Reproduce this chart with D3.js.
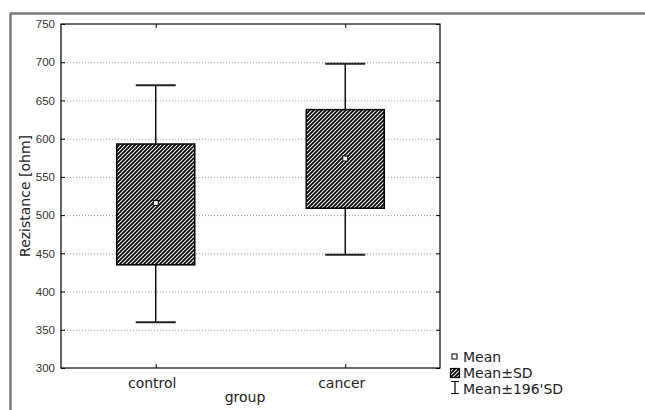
<!DOCTYPE html>
<html><head><meta charset="utf-8">
<script src="https://cdn.jsdelivr.net/npm/d3@7"></script>
<style>body{margin:0;background:#fff}svg{display:block}</style>
</head><body>
<svg id="c" width="645" height="410"></svg>
<script>
const categories = ["control", "cancer"];
const means = [516, 574];
const sdLow = [435, 509];
const sdHigh = [593, 638];
const ciLow = [360, 448];
const ciHigh = [670, 698];
const yTicks = [300, 350, 400, 450, 500, 550, 600, 650, 700, 750];
const legendLabels = ["Mean", "Mean±SD", "Mean±196'SD"];

const svg = d3.select("#c");
const L = 61, R = 440, T = 24, B = 368;
const x = d3.scalePoint().domain(categories).range([L, R]).padding(0.5);
const y = d3.scaleLinear().domain([300, 750]).range([B, T]);

const defs = svg.append("defs");
const pat = defs.append("pattern").attr("id", "hatch").attr("patternUnits", "userSpaceOnUse")
  .attr("width", 4).attr("height", 4);
pat.append("rect").attr("width", 4).attr("height", 4).attr("fill", "#fff");
pat.append("path").attr("d", "M-1,1 l2,-2 M0,4 l4,-4 M3,5 l2,-2")
  .attr("stroke", "#000").attr("stroke-width", 1.8);

// outer frame
svg.append("line").attr("x1", 10).attr("x2", 645).attr("y1", 13.5).attr("y2", 13.5)
  .attr("stroke", "#7a7a7a").attr("stroke-width", 2.5);
svg.append("line").attr("x1", 10.5).attr("x2", 10.5).attr("y1", 13).attr("y2", 410)
  .attr("stroke", "#7a7a7a").attr("stroke-width", 2.5);

// gridlines
svg.append("g").selectAll("line").data(yTicks.filter(d => d > 300 && d < 750)).join("line")
  .attr("x1", L).attr("x2", R).attr("y1", d => y(d) + 0.5).attr("y2", d => y(d) + 0.5)
  .attr("stroke", "#a89898").attr("stroke-width", 1).attr("stroke-dasharray", "1,2");

// axes
const fontTick = "'Liberation Sans', Arial, sans-serif";
const yAxis = svg.append("g").attr("transform", `translate(${L},0)`)
  .call(d3.axisLeft(y).tickValues(yTicks).tickSize(-4).tickPadding(6));
yAxis.select(".domain").remove();
yAxis.selectAll("text").attr("font-family", fontTick).attr("font-size", 11.5).attr("fill", "#333");
yAxis.selectAll("line").attr("stroke", "#000");
const yAxisR = svg.append("g").attr("transform", `translate(${R},0)`)
  .call(d3.axisRight(y).tickValues(yTicks).tickSize(-4).tickFormat(""));
yAxisR.select(".domain").remove();
const xAxis = svg.append("g").attr("transform", `translate(0,${B})`)
  .call(d3.axisBottom(x).tickSize(-4).tickPadding(10));
xAxis.select(".domain").remove();
xAxis.selectAll("text").attr("font-family", "'DejaVu Sans', sans-serif").attr("font-size", 14)
  .attr("fill", "#222").attr("dx", -4);
const xAxisT = svg.append("g").attr("transform", `translate(0,${T})`)
  .call(d3.axisTop(x).tickSize(-4).tickFormat(""));
xAxisT.select(".domain").remove();

// plot border
svg.append("rect").attr("x", L).attr("y", T).attr("width", R - L).attr("height", B - T)
  .attr("fill", "none").attr("stroke", "#000").attr("stroke-width", 1.2);

// boxes
const bw = 78, cw = 40;
const g = svg.append("g");
categories.forEach((c, i) => {
  const cx = x(c);
  g.append("line").attr("x1", cx).attr("x2", cx).attr("y1", y(ciHigh[i])).attr("y2", y(ciLow[i]))
    .attr("stroke", "#000").attr("stroke-width", 1.4);
  [ciHigh[i], ciLow[i]].forEach(v => {
    g.append("line").attr("x1", cx - cw / 2).attr("x2", cx + cw / 2).attr("y1", y(v)).attr("y2", y(v))
      .attr("stroke", "#222").attr("stroke-width", 2);
  });
  g.append("rect").attr("x", cx - bw / 2).attr("y", y(sdHigh[i])).attr("width", bw)
    .attr("height", y(sdLow[i]) - y(sdHigh[i])).attr("fill", "url(#hatch)")
    .attr("stroke", "#000").attr("stroke-width", 1.5);
  g.append("rect").attr("x", cx - 2.5).attr("y", y(means[i]) - 2.5).attr("width", 5).attr("height", 5)
    .attr("fill", "#fff").attr("stroke", "#000").attr("stroke-width", 1);
});

// axis titles
svg.append("text").attr("x", 245).attr("y", 402).attr("text-anchor", "middle")
  .attr("font-family", "'DejaVu Sans', sans-serif").attr("font-size", 14).attr("fill", "#222").text("group");
svg.append("text").attr("transform", "translate(30,196) rotate(-90)").attr("text-anchor", "middle")
  .attr("font-family", "'DejaVu Sans', sans-serif").attr("font-size", 14).attr("fill", "#222").text("Rezistance [ohm]");

// legend
const lg = svg.append("g");
const lx = 463, lys = [362, 378, 394];
legendLabels.forEach((t, i) => {
  lg.append("text").attr("x", lx).attr("y", lys[i]).attr("font-family", "'DejaVu Sans', sans-serif")
    .attr("font-size", 14).attr("fill", "#222").text(t);
});
lg.append("rect").attr("x", 452).attr("y", 354).attr("width", 5).attr("height", 5)
  .attr("fill", "#fff").attr("stroke", "#000").attr("stroke-width", 1);
lg.append("rect").attr("x", 450.5).attr("y", 368.5).attr("width", 9).attr("height", 9)
  .attr("fill", "url(#hatch)").attr("stroke", "#000").attr("stroke-width", 1.2);
lg.append("path").attr("d", "M451,381.5 h8 M455,381.5 V393.5 M451,393.5 h8")
  .attr("stroke", "#000").attr("stroke-width", 1.2).attr("fill", "none");
</script>
</body></html>
